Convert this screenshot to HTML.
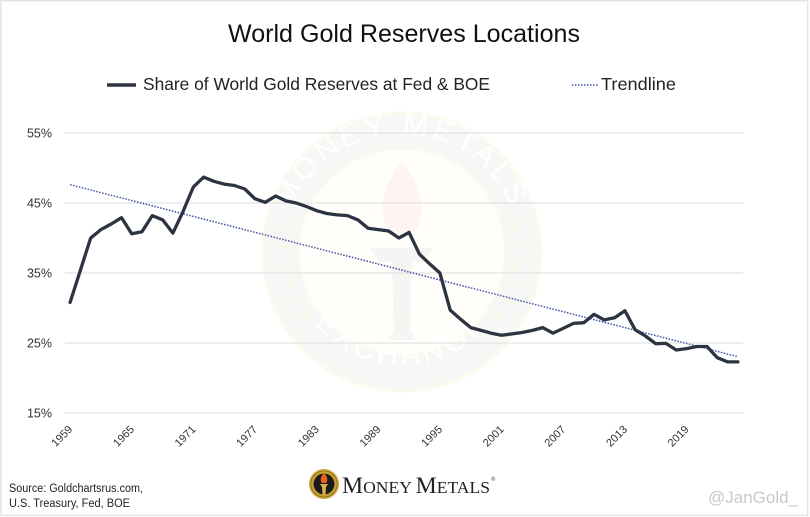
<!DOCTYPE html>
<html>
<head>
<meta charset="utf-8">
<style>
  html,body{margin:0;padding:0;background:#fff;}
  svg{display:block;}
  text{font-family:"Liberation Sans",sans-serif;}
</style>
</head>
<body>
<svg width="810" height="517" viewBox="0 0 810 517" xmlns="http://www.w3.org/2000/svg">
  <rect x="0" y="0" width="810" height="517" fill="#fff"/>
  <rect x="0.75" y="0.75" width="807" height="514.5" fill="none" stroke="#e4e4e4" stroke-width="1.5"/>

  <!-- Watermark seal -->
  <g>
    <circle cx="402" cy="252" r="139" fill="#f7f7f6" stroke="#fcf9ee" stroke-width="3"/>
    <circle cx="402" cy="252" r="103" fill="#fffefa" stroke="#fcfaf0" stroke-width="2"/>
    <defs>
      <path id="arcTop" d="M 284 252 A 118 118 0 0 1 520 252"/>
      <path id="arcBot" d="M 290 272 A 114 114 0 0 0 514 272"/>
    </defs>
    <text font-size="30" fill="#ffffff" letter-spacing="4" text-anchor="middle"><textPath href="#arcTop" startOffset="50%">MONEY METALS</textPath></text>
    <text font-size="30" fill="#ffffff" letter-spacing="4" text-anchor="middle"><textPath href="#arcBot" startOffset="50%">EXCHANGE</textPath></text>
    <g fill="#fbf7e8" font-size="14" text-anchor="middle">
      <text x="288" y="230">★</text><text x="286" y="250">★</text><text x="288" y="270">★</text>
      <text x="292" y="288">★</text><text x="298" y="304">★</text><text x="306" y="320">★</text>
      <text x="516" y="230">★</text><text x="518" y="250">★</text><text x="516" y="270">★</text>
      <text x="512" y="288">★</text><text x="506" y="304">★</text><text x="498" y="320">★</text>
    </g>
    <path d="M 402 160 C 385 185 378 205 385 225 C 390 238 414 238 419 225 C 426 205 418 185 402 160 Z" fill="#fdf4f3"/>
    <path d="M 370 248 L 434 248 L 424 262 L 412 262 L 410 330 L 416 340 L 388 340 L 394 330 L 392 262 L 380 262 Z" fill="#f5f5f4"/>
  </g>

  <!-- Title -->
  <text x="404" y="42" font-size="25" fill="#111" text-anchor="middle" textLength="352" lengthAdjust="spacingAndGlyphs">World Gold Reserves Locations</text>

  <!-- Legend -->
  <line x1="107" y1="85" x2="136" y2="85" stroke="#2d3441" stroke-width="3.5"/>
  <text x="143" y="90" font-size="17.5" fill="#222" textLength="347" lengthAdjust="spacingAndGlyphs">Share of World Gold Reserves at Fed &amp; BOE</text>
  <line x1="572" y1="85" x2="599" y2="85" stroke="#3f51a6" stroke-width="1.5" stroke-dasharray="1.5 1.5"/>
  <text x="601" y="90" font-size="17.5" fill="#222" textLength="75" lengthAdjust="spacingAndGlyphs">Trendline</text>

  <!-- Gridlines -->
  <g stroke="#e4e4e4" stroke-width="1.2">
    <line x1="65" y1="133" x2="743" y2="133"/>
    <line x1="65" y1="203" x2="743" y2="203"/>
    <line x1="65" y1="273" x2="743" y2="273"/>
    <line x1="65" y1="343" x2="743" y2="343"/>
    <line x1="65" y1="413" x2="743" y2="413"/>
  </g>

  <!-- Y labels -->
  <g font-size="12.5" fill="#333" text-anchor="end">
    <text x="52" y="137.5">55%</text>
    <text x="52" y="207.5">45%</text>
    <text x="52" y="277.5">35%</text>
    <text x="52" y="347.5">25%</text>
    <text x="52" y="417.5">15%</text>
  </g>

  <!-- X labels -->
  <g font-size="11" fill="#333" text-anchor="end">
    <text transform="translate(73.1,430) rotate(-45)">1959</text>
    <text transform="translate(134.8,430) rotate(-45)">1965</text>
    <text transform="translate(196.4,430) rotate(-45)">1971</text>
    <text transform="translate(258.0,430) rotate(-45)">1977</text>
    <text transform="translate(319.7,430) rotate(-45)">1983</text>
    <text transform="translate(381.3,430) rotate(-45)">1989</text>
    <text transform="translate(442.9,430) rotate(-45)">1995</text>
    <text transform="translate(504.6,430) rotate(-45)">2001</text>
    <text transform="translate(566.2,430) rotate(-45)">2007</text>
    <text transform="translate(627.9,430) rotate(-45)">2013</text>
    <text transform="translate(689.5,430) rotate(-45)">2019</text>
  </g>

  <!-- Trendline -->
  <line x1="70.1" y1="184.7" x2="737.9" y2="356.7" stroke="#3f51a6" stroke-width="1.5" stroke-dasharray="1.5 1.5"/>

  <!-- Data series -->
  <polyline fill="none" stroke="#2d3441" stroke-width="3.3" stroke-linejoin="round" stroke-linecap="round"
    points="70.1,302.4 80.4,270.2 90.7,238.0 100.9,229.6 111.2,224.0 121.5,217.7 131.8,233.8 142.0,231.7 152.3,215.6 162.6,219.8 172.9,233.1 183.1,211.4 193.4,186.9 203.7,177.1 213.9,181.3 224.2,184.1 234.5,185.5 244.8,189.0 255.0,198.8 265.3,202.3 275.6,196.0 285.9,200.9 296.1,203.0 306.4,206.5 316.7,210.7 326.9,213.5 337.2,214.9 347.5,215.6 357.8,219.8 368.0,228.2 378.3,229.6 388.6,231.0 398.9,238.0 409.1,232.4 419.4,254.1 429.7,263.9 439.9,273.0 450.2,310.1 460.5,319.2 470.8,327.6 481.0,330.4 491.3,333.2 501.6,335.3 511.9,333.9 522.1,332.5 532.4,330.4 542.7,327.6 553.0,333.2 563.2,328.3 573.5,323.4 583.8,322.7 594.0,314.3 604.3,319.9 614.6,317.8 624.9,310.8 635.1,329.7 645.4,336.0 655.7,343.7 666.0,343.4 676.2,350.0 686.5,348.6 696.8,346.5 707.0,346.5 717.3,357.7 727.6,361.9 737.9,361.9"/>

  <!-- Footer source -->
  <text x="9" y="492" font-size="11.5" fill="#222" textLength="134" lengthAdjust="spacingAndGlyphs">Source: Goldchartsrus.com,</text>
  <text x="9" y="507" font-size="11.5" fill="#222" textLength="121" lengthAdjust="spacingAndGlyphs">U.S. Treasury, Fed, BOE</text>

  <!-- Money Metals logo -->
  <g>
    <circle cx="324" cy="484" r="15" fill="#c9a338"/>
    <circle cx="324" cy="484" r="13" fill="none" stroke="#8a6d1c" stroke-width="0.8"/>
    <circle cx="324" cy="484" r="10.5" fill="#1b1b1b"/>
    <path d="M 324 473 C 320 477 320 481 322 483 L 326 483 C 328 481 328 477 324 473 Z" fill="#e8641e"/>
    <path d="M 320 484 L 328 484 L 326 487 L 325.5 495 L 322.5 495 L 322 487 Z" fill="#d6b04a"/>
  </g>
  <text x="342" y="493" fill="#222" style="font-family:'Liberation Serif',serif;" textLength="148" lengthAdjust="spacingAndGlyphs"><tspan font-size="23">M</tspan><tspan font-size="17">ONEY </tspan><tspan font-size="23">M</tspan><tspan font-size="17">ETALS</tspan></text>
  <text x="491" y="481" font-size="6" fill="#222" style="font-family:'Liberation Serif',serif;">®</text>

  <!-- Handle -->
  <text x="708" y="503" font-size="17" fill="#c8c8c8" textLength="90" lengthAdjust="spacingAndGlyphs">@JanGold_</text>
</svg>
</body>
</html>
